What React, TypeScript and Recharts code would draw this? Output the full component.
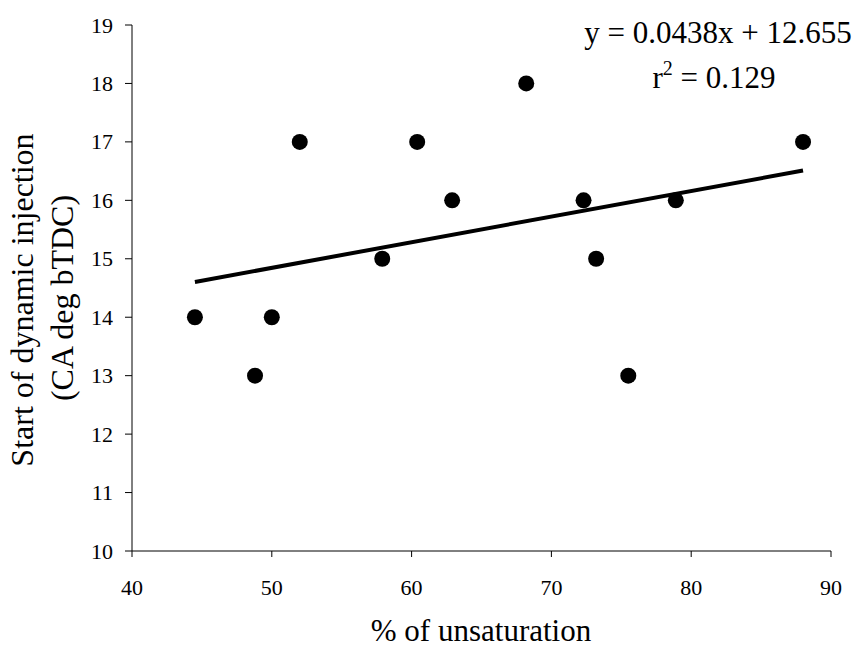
import React from "react";
import { ScatterChart, Scatter, XAxis, YAxis } from "recharts";

const unsaturation = [44.5, 48.8, 50.0, 52.0, 57.9, 60.4, 62.9, 68.2, 72.3, 73.2, 75.5, 78.9, 88.0];
const injectionStart = [14, 13, 14, 17, 15, 17, 16, 18, 16, 15, 13, 16, 17];
const xTicks = [40, 50, 60, 70, 80, 90];
const yTicks = [10, 11, 12, 13, 14, 15, 16, 17, 18, 19];
const trendSlope = 0.0438;
const trendIntercept = 12.655;
const trendX = [44.5, 88.0];

const points = unsaturation.map((x, i) => ({ x, y: injectionStart[i] }));
const trend = trendX.map((x) => ({ x, y: trendSlope * x + trendIntercept }));

const FONT = "'Liberation Serif', 'Times New Roman', serif";

const Dot = (props: any) => <circle cx={props.cx} cy={props.cy} r={8} fill="#000" />;
const NoDot = () => <g />;

const XTick = (props: any) => {
  const { x, y, payload } = props;
  return (
    <text x={x} y={y + 26} textAnchor="middle" fontFamily={FONT} fontSize={22} fill="#000">
      {payload.value}
    </text>
  );
};

const YTick = (props: any) => {
  const { x, y, payload } = props;
  return (
    <text x={x} y={y + 7.5} textAnchor="end" fontFamily={FONT} fontSize={22} fill="#000">
      {payload.value}
    </text>
  );
};

const YLabel = () => (
  <g fontFamily={FONT} fontSize={32} fill="#000">
    <text x={33} y={300} textAnchor="middle" transform="rotate(-90, 33, 300)">
      Start of dynamic injection
    </text>
    <text x={73} y={298} textAnchor="middle" transform="rotate(-90, 73, 298)">
      (CA deg bTDC)
    </text>
  </g>
);

export default function App() {
  return (
    <div style={{ position: "absolute", left: 0, top: 0, background: "#fff" }}>
      <ScatterChart width={861} height={648} margin={{ top: 25, right: 30, left: 0, bottom: 0 }}>
        <XAxis
          type="number"
          dataKey="x"
          domain={[40, 90]}
          ticks={xTicks}
          height={97}
          tickSize={6}
          tickMargin={12}
          stroke="#000"
          tick={<XTick />}
          tickLine={{ stroke: "#000" }}
          axisLine={{ stroke: "#000" }}
        />
        <YAxis
          type="number"
          dataKey="y"
          domain={[10, 19]}
          ticks={yTicks}
          width={132}
          tickSize={7}
          tickMargin={12}
          stroke="#000"
          tick={<YTick />}
          tickLine={{ stroke: "#000" }}
          axisLine={{ stroke: "#000" }}
        />
        <Scatter
          data={trend}
          line={{ stroke: "#000", strokeWidth: 4 }}
          shape={NoDot}
          isAnimationActive={false}
        />
        <Scatter data={points} shape={Dot} isAnimationActive={false} />
        <YLabel />
        <text x={481} y={641} textAnchor="middle" fontFamily={FONT} fontSize={31} fill="#000">
          % of unsaturation
        </text>
        <text x={718} y={43} textAnchor="middle" fontFamily={FONT} fontSize={31} fill="#000">
          y = 0.0438x + 12.655
        </text>
        <text x={714} y={88} textAnchor="middle" fontFamily={FONT} fontSize={31} fill="#000">
          r<tspan fontSize={20} dy={-13}>2</tspan>
          <tspan dy={13}> = 0.129</tspan>
        </text>
      </ScatterChart>
    </div>
  );
}
